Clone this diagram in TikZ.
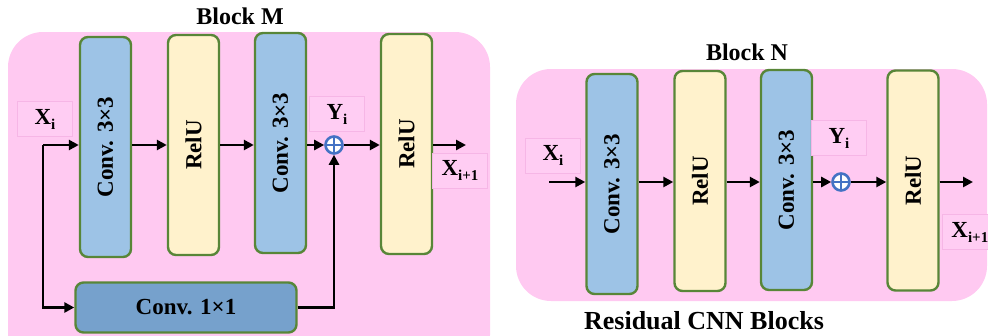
\documentclass[tikz,border=0pt]{standalone}
\usepackage{fontspec}
\setmainfont{Liberation Serif}
\usetikzlibrary{arrows.meta, positioning, calc}
\definecolor{blockpink}{RGB}{255, 201, 241}
\definecolor{lblpink}{RGB}{255, 205, 243}
\definecolor{lbledge}{RGB}{246, 182, 230}
\definecolor{boxgreen}{RGB}{88, 134, 56}
\definecolor{convblue}{RGB}{157, 195, 230}
\definecolor{deepblue}{RGB}{118, 161, 204}
\definecolor{reluyellow}{RGB}{255, 242, 204}
\definecolor{plusblue}{RGB}{68, 114, 196}
\newcommand{\lblsub}[1]{\raisebox{-5pt}{\fontsize{15}{15}\selectfont #1}}

\begin{document}
\begin{tikzpicture}[x=1pt, y=-1pt,
  conv/.style={draw=boxgreen, line width=2.4pt, fill=convblue, rounded corners=8pt, minimum width=51pt, minimum height=220pt, inner sep=0pt, font=\fontsize{23}{26}\selectfont\bfseries},
  relu/.style={conv, fill=reluyellow},
  wide/.style={conv, fill=deepblue, minimum width=221pt, minimum height=50pt},
  lbl/.style={draw=lbledge, line width=0.7pt, fill=lblpink, minimum width=55pt, minimum height=35pt, inner sep=0pt, font=\fontsize{23}{26}\selectfont\bfseries},
  title/.style={font=\fontsize{24}{28}\selectfont\bfseries, inner sep=0pt},
  bg/.style={fill=blockpink, rounded corners=35pt},
  arr/.style={line width=2.6pt, -{Triangle[length=10pt, width=10pt]}},
  oplus/.style={circle, draw=plusblue, line width=2.6pt, fill=white, minimum size=17pt, inner sep=0pt,
    path picture={\draw[plusblue, line width=2.6pt] (path picture bounding box.north) -- (path picture bounding box.south) (path picture bounding box.west) -- (path picture bounding box.east);}}
]
  \useasboundingbox (0,0) rectangle (988,335);
  \clip (0,0) rectangle (988,335);

  \fill[bg] (8,32) rectangle (490,370);
  \fill[bg] (516,69) rectangle (987,301);

  \node[title] (tm) at (240,16) {Block M};
  \node[title] (tn) at (747,52) {Block N};
  \node[title, font=\fontsize{26}{30}\selectfont\bfseries] (cap) at (704,321) {Residual CNN Blocks};

  % Block M
  \node[conv] (mc1) at (105.5,147) {\rotatebox{90}{Conv. 3×3}};
  \node[relu] (mr1) at (193.5,145) {\rotatebox{90}{RelU}};
  \node[conv] (mc2) at (280.5,143) {\rotatebox{90}{Conv. 3×3}};
  \node[relu] (mr2) at (406.5,144) {\rotatebox{90}{RelU}};
  \node[wide] (mk1) at (186,307.5) {Conv. 1×1};
  \node[oplus] (mop) at (334,145) {};
  \node[lbl] (mx) at (45,119) {X\lblsub{i}};
  \node[lbl] (my) at (337,114) {Y\lblsub{i}};
  \node[lbl] (mxo) at (460,170.5) {X\lblsub{i+1}};
  \coordinate (msplit) at (43,145);
  \coordinate (mout) at (466,145);

  \draw[arr] (msplit) -- (mc1.west |- msplit);
  \draw[arr] (mc1.east |- mop) -- (mr1.west |- mop);
  \draw[arr] (mr1.east |- mop) -- (mc2.west |- mop);
  \draw[arr] (mc2.east |- mop) -- (mop.west);
  \draw[arr] (mop.east) -- (mr2.west |- mop);
  \draw[arr] (mr2.east |- mop) -- (mout);
  \draw[arr] (msplit) |- (mk1.west);
  \draw[arr] (mk1.east) -| (mop.south);

  % Block N
  \node[conv] (nc1) at (612,184) {\rotatebox{90}{Conv. 3×3}};
  \node[relu] (nr1) at (700,181) {\rotatebox{90}{RelU}};
  \node[conv] (nc2) at (786.5,180) {\rotatebox{90}{Conv. 3×3}};
  \node[relu] (nr2) at (913,180.5) {\rotatebox{90}{RelU}};
  \node[oplus] (nop) at (841,182) {};
  \node[lbl] (nx) at (553,155.5) {X\lblsub{i}};
  \node[lbl] (ny) at (839,138) {Y\lblsub{i}};
  \node[lbl, anchor=west] (nxo) at (942,232) {X\lblsub{i+1}};
  \coordinate (nin) at (549,182);
  \coordinate (nout) at (973,182);

  \draw[arr] (nin) -- (nc1.west |- nop);
  \draw[arr] (nc1.east |- nop) -- (nr1.west |- nop);
  \draw[arr] (nr1.east |- nop) -- (nc2.west |- nop);
  \draw[arr] (nc2.east |- nop) -- (nop.west);
  \draw[arr] (nop.east) -- (nr2.west |- nop);
  \draw[arr] (nr2.east |- nop) -- (nout);
\end{tikzpicture}
\end{document}
